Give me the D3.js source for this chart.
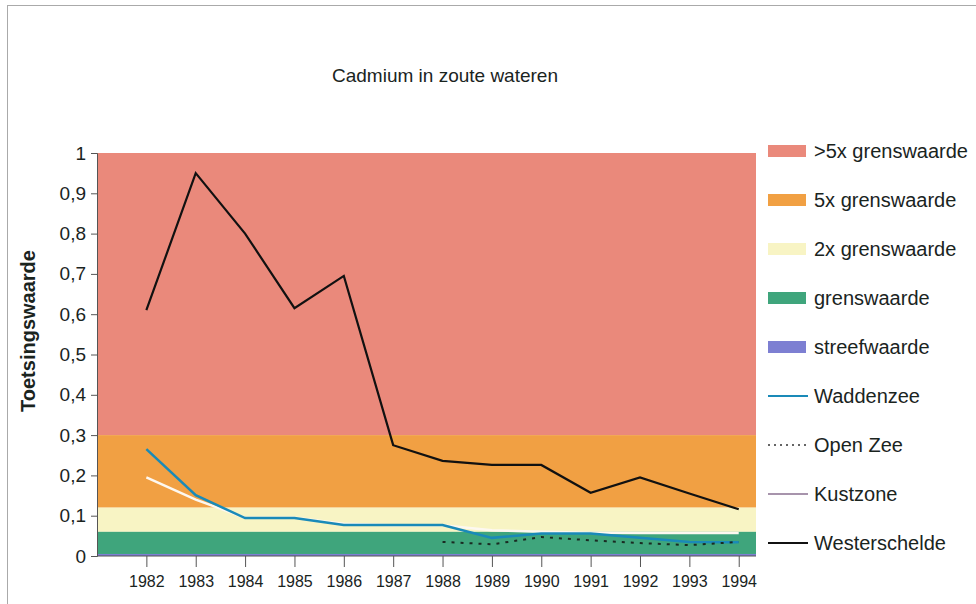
<!DOCTYPE html>
<html lang="nl">
<head>
  <meta charset="UTF-8">
  <title>Cadmium in zoute wateren</title>
  <script src="https://cdn.jsdelivr.net/npm/d3@7"></script>
  <style>
    body { margin: 0; background: #fff; }
    svg { font-family: Arial, "Liberation Sans", sans-serif; }
  </style>
</head>
<body>
  <div id="chart"></div>
  <script>
    // data
    const years = [1982, 1983, 1984, 1985, 1986, 1987, 1988, 1989, 1990, 1991, 1992, 1993, 1994];
    const westerschelde = [0.61, 0.95, 0.80, 0.615, 0.695, 0.275, 0.236, 0.226, 0.226, 0.157, 0.195, 0.155, 0.116];
    const waddenzee = [0.265, 0.151, 0.094, 0.094, 0.077, 0.077, 0.077, 0.045, 0.056, 0.056, 0.045, 0.035, 0.034];
    const kustzone = [0.195, 0.14, 0.095, 0.095, 0.08, 0.076, 0.076, 0.064, 0.06, 0.058, 0.057, 0.057, 0.057];
    const openZeeYears = [1988, 1989, 1990, 1991, 1992, 1993, 1994];
    const openZee = [0.035, 0.029, 0.047, 0.039, 0.032, 0.027, 0.035];

    // zones (lower / upper bound)
    const zoneNames = [">5x grenswaarde", "5x grenswaarde", "2x grenswaarde", "grenswaarde", "streefwaarde"];
    const zoneLow = [0.3, 0.12, 0.06, 0.005, 0];
    const zoneHigh = [1, 0.3, 0.12, 0.06, 0.005];
    const zoneColors = ["#ea897b", "#f1a043", "#f8f4c4", "#3fa57c", "#7d7fd2"];

    const yTicks = [0, 0.1, 0.2, 0.3, 0.4, 0.5, 0.6, 0.7, 0.8, 0.9, 1];

    const width = 976, height = 604;
    const margin = { top: 153, left: 97, bottom: 48, right: 220 };
    const ink = "#1a241e";

    const svg = d3.select("#chart").append("svg")
      .attr("width", width)
      .attr("height", height);

    // frame
    svg.append("rect")
      .attr("x", 7.5).attr("y", 5.5)
      .attr("width", 1000).attr("height", 1000)
      .attr("fill", "none")
      .attr("stroke", "#aaa")
      .attr("stroke-width", 1);

    const x = d3.scaleLinear()
      .domain([1981, 1994.35])
      .range([margin.left, width - margin.right]);

    const y = d3.scaleLinear()
      .domain([0, 1])
      .range([height - margin.bottom, margin.top]);

    // background zones
    svg.append("g").selectAll("rect")
      .data(zoneNames)
      .join("rect")
      .attr("x", x(1981))
      .attr("width", x(1994.35) - x(1981))
      .attr("y", (d, i) => y(zoneHigh[i]))
      .attr("height", (d, i) => y(zoneLow[i]) - y(zoneHigh[i]))
      .attr("fill", (d, i) => zoneColors[i]);

    // axes
    svg.append("g")
      .attr("transform", `translate(${margin.left},0)`)
      .call(d3.axisLeft(y).tickValues(yTicks).tickSize(6).tickPadding(5)
        .tickFormat(d => String(d).replace(".", ",")))
      .call(g => g.selectAll("text").style("font-size", "19px").attr("fill", ink))
      .call(g => g.selectAll("line, path").attr("stroke", "#555"));

    svg.append("g")
      .attr("transform", `translate(0,${y(0)})`)
      .call(d3.axisBottom(x).tickValues(years).tickSize(11).tickPadding(9)
        .tickFormat(d3.format("d")))
      .call(g => g.select(".domain").remove())
      .call(g => g.selectAll("text").style("font-size", "16px").attr("fill", ink))
      .call(g => g.selectAll("line").attr("stroke", "#555"));

    svg.append("line")
      .attr("x1", x(1981)).attr("x2", x(1994.35))
      .attr("y1", y(0)).attr("y2", y(0))
      .attr("stroke", "#555");

    // lines
    const line = d3.line()
      .x(d => x(d[0]))
      .y(d => y(d[1]));

    svg.append("path")
      .datum(d3.zip(years, kustzone))
      .attr("fill", "none")
      .attr("stroke", "#fdf8f0")
      .attr("stroke-width", 2.5)
      .attr("d", line);

    svg.append("path")
      .datum(d3.zip(years, waddenzee))
      .attr("fill", "none")
      .attr("stroke", "#1a8ab8")
      .attr("stroke-width", 2.5)
      .attr("d", line);

    svg.append("path")
      .datum(d3.zip(openZeeYears, openZee))
      .attr("fill", "none")
      .attr("stroke", "#1a2a22")
      .attr("stroke-width", 2)
      .attr("stroke-dasharray", "3,6")
      .attr("d", line);

    svg.append("path")
      .datum(d3.zip(years, westerschelde))
      .attr("fill", "none")
      .attr("stroke", "#111")
      .attr("stroke-width", 2.2)
      .attr("d", line);

    // titles
    svg.append("text")
      .attr("x", 445).attr("y", 82)
      .attr("text-anchor", "middle")
      .style("font-size", "19px")
      .attr("fill", ink)
      .text("Cadmium in zoute wateren");

    svg.append("text")
      .attr("transform", "translate(35,331) rotate(-90)")
      .attr("text-anchor", "middle")
      .style("font-size", "20px")
      .style("font-weight", "bold")
      .attr("fill", ink)
      .text("Toetsingswaarde");

    // legend
    const legendLines = [
      { name: "Waddenzee", color: "#1a8ab8", dash: null, w: 2 },
      { name: "Open Zee", color: "#333", dash: "2,4", w: 1.5 },
      { name: "Kustzone", color: "#8a7090", dash: null, w: 1.5 },
      { name: "Westerschelde", color: "#111", dash: null, w: 2 }
    ];
    const legend = svg.append("g").attr("transform", "translate(768,151)");
    const rowH = 49;

    zoneNames.forEach((name, i) => {
      const g = legend.append("g").attr("transform", `translate(0,${i * rowH})`);
      g.append("rect")
        .attr("x", 0).attr("y", -6)
        .attr("width", 38).attr("height", 12)
        .attr("fill", zoneColors[i]);
      g.append("text")
        .attr("x", 46).attr("y", 0).attr("dy", "0.35em")
        .style("font-size", "20px")
        .attr("fill", ink)
        .text(name);
    });

    legendLines.forEach((d, j) => {
      const g = legend.append("g").attr("transform", `translate(0,${(zoneNames.length + j) * rowH})`);
      g.append("line")
        .attr("x1", 0).attr("x2", 40)
        .attr("stroke", d.color)
        .attr("stroke-width", d.w)
        .attr("stroke-dasharray", d.dash);
      g.append("text")
        .attr("x", 46).attr("y", 0).attr("dy", "0.35em")
        .style("font-size", "20px")
        .attr("fill", ink)
        .text(d.name);
    });
  </script>
</body>
</html>
